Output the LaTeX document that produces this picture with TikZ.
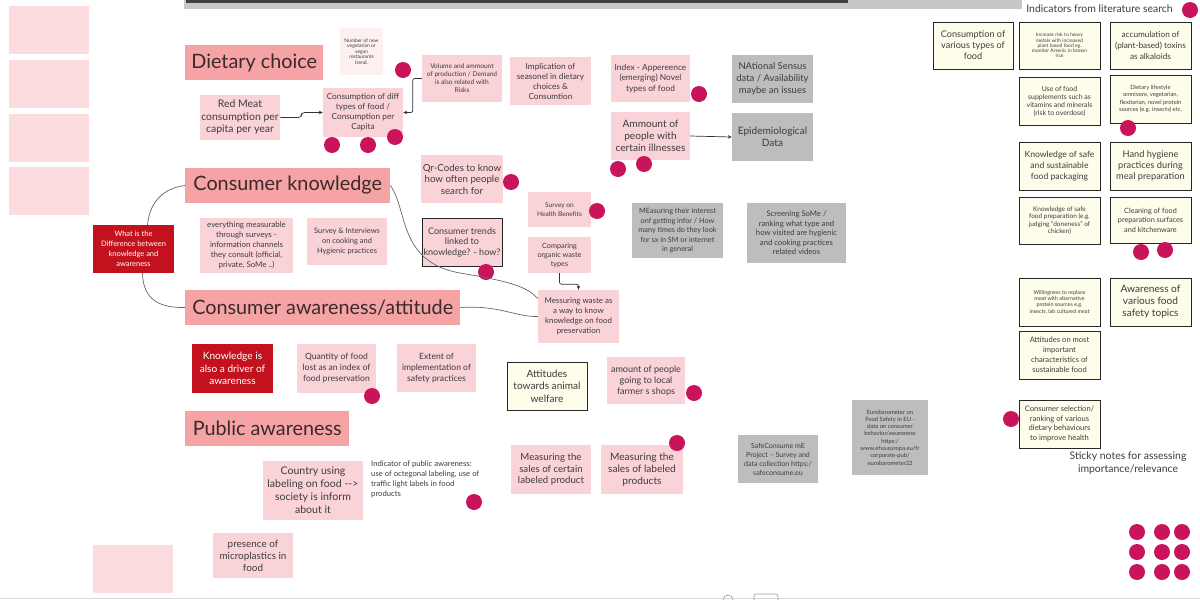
\documentclass[tikz,border=0pt]{standalone}
\usepackage{fontspec}
\setmainfont{Lato}[Scale=1.1]
\usetikzlibrary{arrows.meta}

\definecolor{hdrpink}{HTML}{F5A3A5}
\definecolor{notepink}{HTML}{FAD3D8}
\definecolor{blankpink}{HTML}{FCDCDF}
\definecolor{palepink}{HTML}{FDF0F1}
\definecolor{darkred}{HTML}{C3121E}
\definecolor{dotmag}{HTML}{C9145C}
\definecolor{graybox}{HTML}{BDBDBD}
\definecolor{creamy}{HTML}{FEFDEB}
\definecolor{txt}{HTML}{3C3C3C}
\definecolor{hdrtxt}{HTML}{3A2A2A}
\definecolor{linegray}{HTML}{666666}

\newcommand\fsz[2]{\fontsize{#1}{#2}\selectfont}

\tikzset{
  base/.style={inner sep=1.5pt, align=center, text=txt},
  note/.style={base, fill=notepink},
  greynote/.style={base, fill=graybox},
  creamnote/.style={base, fill=creamy, draw=black!85, line width=0.9pt},
  rednote/.style={base, fill=darkred, text=white},
  hdr/.style={fill=hdrpink, text=hdrtxt, anchor=west, inner xsep=4pt, minimum height=35pt, font=\fsz{18}{20}},
  blank/.style={fill=blankpink, minimum width=80pt, minimum height=48pt},
  sz/.style 2 args={minimum width=#1pt, minimum height=#2pt},
  dot/.style={circle, fill=dotmag, minimum size=16pt, inner sep=0pt},
  link/.style={draw=linegray, line width=0.7pt},
  arr/.style={link, draw=black!80, -{Stealth[length=4pt,width=3.5pt]}},
}

\begin{document}
\begin{tikzpicture}[x=1pt, y=-1pt]
\fill[white] (0,0) rectangle (1200,600);
\path[use as bounding box] (0,0) rectangle (1200,600);

% top bar and bottom edge
\fill[black!22] (184,0) rectangle (1022,9);
\fill[black!75] (186,0) rectangle (848,3);
\draw[black!15, line width=0.6pt] (0,598) -- (1200,598);
\draw[black!40, line width=0.6pt] (728,600) circle (5);
\draw[black!40, line width=0.6pt, rounded corners=2pt] (754,600) -- (754,594) -- (778,594) -- (778,600);

% empty sticky notes
\node[blank] (blank1) at (49,30) {};
\node[blank] (blank2) at (49,83.5) {};
\node[blank] (blank3) at (49,138) {};
\node[blank] (blank4) at (49,191) {};
\node[blank] (blank5) at (133,568.5) {};

% headers
\node[hdr, minimum width=138pt] (dietary) at (185,62.5) {Dietary choice};
\node[hdr, minimum width=205pt] (consknow) at (185,185.5) {Consumer knowledge};
\node[hdr, minimum width=275pt] (consaware) at (185,307.5) {Consumer awareness/attitude};
\node[hdr, minimum width=164pt] (public) at (185,428) {Public awareness};

% dietary choice
\node[base, fill=palepink, sz={43}{47}, font=\fsz{4.5}{5.5}] (newveg) at (361.5,51.5) {Number of new\\vegetarian or\\vegan\\restaurants\\trend.};
\node[note, sz={80}{45}, font=\fsz{9.5}{12.5}] (redmeat) at (240,117.5) {Red Meat\\consumption per\\capita per year};
\node[note, sz={80}{49}, font=\fsz{7.5}{10}] (consdiff) at (363,112.5) {Consumption of diff\\types of food /\\Consumption per\\Capita};
\node[note, sz={80}{47}, font=\fsz{6}{8}] (volume) at (462,78.5) {Volume and ammount\\of production / Demand\\is also related with\\Risks};
\node[note, sz={81}{48}, font=\fsz{7.5}{10}] (implic) at (550.5,81) {Implication of\\seasonel in dietary\\choices \&\\Consumtion};
\node[note, sz={79}{47}, font=\fsz{7.6}{10.5}] (index) at (650.5,78.5) {Index - Appereence\\(emerging) Novel\\types of food};
\node[greynote, sz={81}{48}, font=\fsz{8.6}{12}] (natsensus) at (772.5,79) {NAtional Sensus\\data / Availability\\maybe an issues};
\node[note, sz={79}{48}, font=\fsz{9.2}{12}] (ammount) at (650.5,136) {Ammount of\\people with\\certain illnesses};
\node[greynote, sz={81}{48}, font=\fsz{9.2}{12.5}] (epidem) at (772.5,137) {Epidemiological\\Data};

% consumer knowledge
\node[note, sz={80}{48}, font=\fsz{8.8}{11.5}] (qrcodes) at (462,179) {Qr-Codes to know\\how often people\\search for};
\node[note, sz={63}{35}, font=\fsz{6}{9}] (healthben) at (559.5,209.5) {Survey on\\Health Benefits};
\node[note, draw=black!85, line width=0.9pt, sz={80}{48}, font=\fsz{8.2}{10.5}] (constrends) at (462,242) {Consumer trends\\linked to\\knowledge? - how?};
\node[note, sz={63}{36}, font=\fsz{6.6}{9}] (comparing) at (559.5,255) {Comparing\\organic waste\\types};
\node[note, sz={81}{53}, font=\fsz{7.2}{10}] (messwaste) at (578.5,316.5) {Messuring waste as\\a way to know\\knowledge on food\\preservation};
\node[greynote, sz={91}{55}, font=\fsz{6.6}{9.5}] (measinterest) at (677.5,230.5) {MEasuring their interest\\onf getting infor / How\\many times do they look\\for sx in SM or internet\\in general};
\node[greynote, sz={99}{60}, font=\fsz{7}{9.5}] (screening) at (796.5,233) {Screening SoMe /\\ranking what type and\\how visited are hygienic\\and cooking practices\\related videos};
\node[note, sz={93}{55}, font=\fsz{7.2}{10}] (everything) at (246.5,245.5) {everything measurable\\through surveys -\\information channels\\they consult (official,\\private, SoMe ..)};
\node[note, sz={80}{47}, font=\fsz{6.8}{10}] (surveyint) at (347,241.5) {Survey \& Interviews\\on cooking and\\Hygienic practices};
\node[rednote, sz={81}{48}, font=\fsz{6.8}{10}] (whatdiff) at (133.5,249) {What is the\\Difference between\\knowledge and\\awareness};

% consumer awareness
\node[rednote, sz={81}{49}, font=\fsz{9.2}{12.5}] (kndriver) at (232.5,368.5) {Knowledge is\\also a driver of\\awareness};
\node[note, sz={79}{49}, font=\fsz{7.8}{11}] (quantity) at (336.5,368.5) {Quantity of food\\lost as an index of\\food preservation};
\node[note, sz={79}{48}, font=\fsz{7.8}{11}] (extent) at (436.5,368) {Extent of\\implementation of\\safety practices};
\node[creamnote, sz={80}{48}, font=\fsz{9.2}{12.5}] (animalwelf) at (547,386) {Attitudes\\towards animal\\welfare};
\node[note, sz={78}{47}, font=\fsz{8.2}{11}] (farmers) at (646,380.5) {amount of people\\going to local\\farmer s shops};

% public awareness
\node[note, sz={100}{59}, font=\fsz{9.6}{13}] (countrylab) at (313,490.5) {Country using\\labeling on food -{}->\\society is inform\\about it};
\node[base, align=left, anchor=north west, inner sep=0pt, font=\fsz{7}{10}] (indicpub) at (371,461) {Indicator of public awareness:\\use of octegonal labeling, use of\\traffic light labels in food\\products};
\node[note, sz={80}{45}, font=\fsz{9}{12}] (microplas) at (253,555.5) {presence of\\microplastics in\\food};
\node[note, sz={80}{49}, font=\fsz{8.8}{11.5}] (salescert) at (551,469.5) {Measuring the\\sales of certain\\labeled product};
\node[note, sz={82}{49}, font=\fsz{9.2}{12}] (saleslab) at (642,469.5) {Measuring the\\sales of labeled\\products};
\node[greynote, sz={80}{48}, font=\fsz{6.4}{9}] (safecons) at (778,459) {SafeConsume mE\\Project -- Survey and\\data collection https:/\\safeconsume.eu};
\node[greynote, sz={76}{75}, font=\fsz{5.3}{7.3}] (eurobar) at (890,437.5) {Eurobarometer on\\Food Safety in EU -\\data on consumer\\behavior/awareness\\https:/\\www.efsa.europa.eu/fr\\corporate-pub/\\eurobarometer22};

% indicators from literature search
\node[base, font=\fsz{9.5}{11}] (littitle) at (1099.5,9) {Indicators from literature search};
\node[creamnote, sz={80}{47}, font=\fsz{8.3}{11}] (consvar) at (973,45.5) {Consumption of\\various types of\\food};
\node[creamnote, sz={81}{47}, font=\fsz{4.5}{5.3}] (heavymet) at (1059.5,45.5) {Increase risk to heavy\\metals with increased\\plant based food eg.\\monitor Arsenic in brown\\rice};
\node[creamnote, sz={81}{47}, font=\fsz{7.5}{10.7}] (alkaloids) at (1150.5,45.5) {accumulation of\\(plant-based) toxins\\as alkaloids};
\node[creamnote, sz={81}{48}, font=\fsz{6.3}{8}] (supplem) at (1059.5,101) {Use of food\\supplements such as\\vitamins and minerals\\(risk to overdose)};
\node[creamnote, sz={81}{48}, font=\fsz{5.3}{7.5}] (lifestyle) at (1150.5,99) {Dietary lifestyle\\omnivore, vegetarian,\\flexitarian, novel protein\\sources (e.g. insects) etc.};
\node[creamnote, sz={81}{48}, font=\fsz{7.8}{11}] (packaging) at (1059.5,166) {Knowledge of safe\\and sustainable\\food packaging};
\node[creamnote, sz={81}{48}, font=\fsz{8.4}{11}] (handhyg) at (1150.5,166) {Hand hygiene\\practices during\\meal preparation};
\node[creamnote, sz={81}{47}, font=\fsz{5.9}{7.5}] (doneness) at (1059.5,220.5) {Knowledge of safe\\food preparation (e.g.\\judging "doneness" of\\chicken)};
\node[creamnote, sz={81}{46}, font=\fsz{6.6}{9.5}] (cleaning) at (1150.5,220) {Cleaning of food\\preparation surfaces\\and kitchenware};
\node[creamnote, sz={81}{48}, font=\fsz{4.9}{6.3}] (willing) at (1059.5,302) {Willingness to replace\\meat with alternative\\protein sources e.g.\\insects, lab cultured meat};
\node[creamnote, sz={81}{48}, font=\fsz{9.2}{12}] (awarevar) at (1150.5,302) {Awareness of\\various food\\safety topics};
\node[creamnote, sz={81}{48}, font=\fsz{6.9}{10}] (attsust) at (1059.5,355) {Attitudes on most\\important\\characteristics of\\sustainable food};
\node[creamnote, sz={81}{48}, font=\fsz{6.9}{9.5}] (conssel) at (1059.5,424) {Consumer selection/\\ranking of various\\dietary behaviours\\to improve health};
\node[base, font=\fsz{9.5}{12.5}] (stickytitle) at (1128,463) {Sticky notes for assessing\\importance/relevance};

% dots
\foreach \p [count=\i] in {(403,70), (332,145), (368,145), (395,137), (699,94), (618,169), (644,164), (511,182), (597,211), (486,272), (372,396), (694,393), (474,502), (677,443), (1190,10), (1128,128), (1141,252), (1165,250), (1011,419)}
  \node[dot] (dot\i) at \p {};
\foreach \dx in {1137,1162,1182}
  \foreach \dy in {532,552,572}
    \node[dot] (grid\dx\dy) at (\dx,\dy) {};

% connectors
\draw[arr, rounded corners=3pt] (redmeat.east) -- ++(21,0) |- (consdiff.west);
\draw[arr, rounded corners=2pt] (volume.west) -- ++(-9,0) |- (consdiff.east);
\draw[arr] (ammount.east) -- (epidem.west);
\draw[arr, rounded corners=2pt] (comparing.south) -- ++(0,11) -| (messwaste.north);
\draw[link] ([xshift=14pt]whatdiff.north) .. controls (150,200) and (165,188) .. (consknow.west);
\draw[link] ([xshift=9pt]whatdiff.south) .. controls (143,300) and (160,308) .. (consaware.west);
\draw[link] (consknow.east) .. controls (408,210) and (398,262) .. (460,273) .. controls (515,282) and (528,288) .. ([yshift=18pt]messwaste.west);
\draw[link] (consaware.east) .. controls (500,305) and (515,317) .. (messwaste.west);
\end{tikzpicture}
\end{document}
